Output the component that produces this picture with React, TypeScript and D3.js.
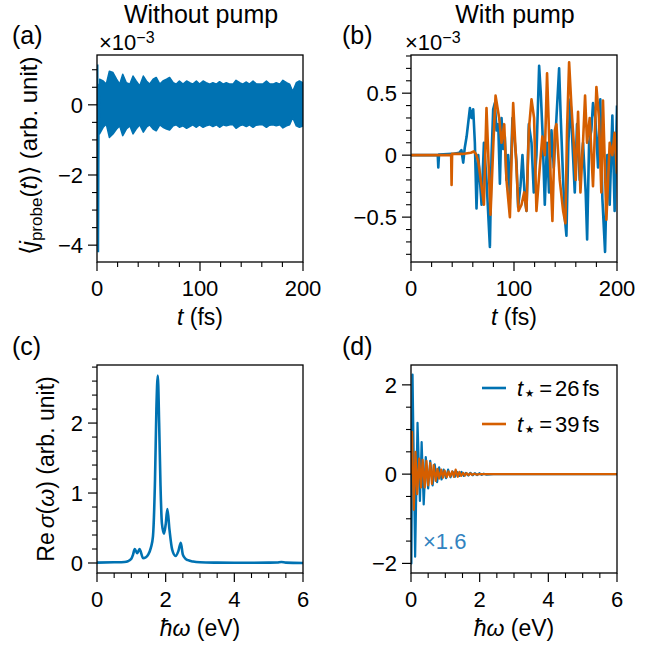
import React from 'react';
import * as d3 from 'd3';

const BLUE = '#0072B2';
const ORANGE = '#D55E00';
const SCALE_BLUE = '#3283c0';
const FONT = '"Liberation Sans", Arial, Helvetica, sans-serif';

// ---------- Panel (a): without pump ----------
const aSpikeT = [0, 0.5, 1.2, 1.8, 2.5];
const aSpikeV = [0, 1.15, -4.2, 0.6, -0.8];
const aBandT = [2.5, 6, 9, 12, 15.5, 19, 22, 25, 28.5, 32, 35, 38, 41.5, 45, 48, 51, 54.5, 57.5, 61, 64, 67.5, 70.5, 74, 77, 80, 83.5, 87, 90, 93, 96.5, 99.5, 103, 106, 109.5, 112.5, 116, 119, 122.5, 125.5, 129, 132, 135, 138.5, 141.5, 145, 148, 151.5, 154.5, 158, 161, 164.5, 167.5, 171, 174, 177.5, 180.5, 184, 187, 190, 193.5, 196.5, 200];
const aBandUpper = [0.73, 0.68, 0.59, 0.96, 0.92, 0.73, 0.59, 0.87, 0.63, 0.59, 0.82, 0.68, 0.54, 0.82, 0.68, 0.59, 0.73, 0.78, 0.59, 0.68, 0.73, 0.78, 0.63, 0.59, 0.68, 0.59, 0.68, 0.63, 0.59, 0.68, 0.59, 0.68, 0.63, 0.59, 0.63, 0.59, 0.66, 0.59, 0.63, 0.59, 0.59, 0.70, 0.63, 0.59, 0.65, 0.59, 0.68, 0.60, 0.59, 0.59, 0.68, 0.60, 0.59, 0.63, 0.59, 0.70, 0.63, 0.59, 0.38, 0.63, 0.68, 0.63];
const aBandLower = [-0.83, -0.64, -0.55, -0.93, -0.83, -0.69, -0.6, -0.88, -0.69, -0.6, -0.83, -0.69, -0.57, -0.78, -0.64, -0.57, -0.69, -0.74, -0.57, -0.64, -0.69, -0.72, -0.6, -0.57, -0.64, -0.6, -0.67, -0.62, -0.57, -0.64, -0.57, -0.64, -0.6, -0.57, -0.62, -0.57, -0.64, -0.57, -0.6, -0.57, -0.57, -0.67, -0.6, -0.57, -0.62, -0.57, -0.64, -0.58, -0.57, -0.57, -0.64, -0.58, -0.57, -0.6, -0.57, -0.66, -0.6, -0.57, -0.36, -0.6, -0.64, -0.6];

// ---------- Panel (b): with pump ----------
const bBlueT = [0, 26, 26.5, 27.2, 40, 47, 49, 50.7, 52.2, 54, 57.2, 58.8, 60.4, 62, 63.6, 65.3, 68.5, 70.8, 73.3, 76.6, 78.2, 79.8, 81.4, 83, 84.7, 86.3, 87.9, 89.5, 91.1, 92.7, 94.3, 96, 98.5, 100.8, 102.4, 104, 106.3, 108.2, 110.5, 112.1, 114.4, 117, 119.2, 121.8, 124.4, 126, 127.6, 129.9, 132, 134, 136.4, 138.6, 141.2, 143.8, 145.4, 147.7, 149.3, 150.9, 152.8, 154.8, 156.7, 159, 161.2, 163.8, 167, 169.6, 171, 172.9, 175.1, 176.7, 179, 181.6, 183.8, 185.8, 188.4, 190.6, 192.9, 195.5, 197.7, 200];
const bBlueV = [0, 0, -0.10, 0.005, 0.01, 0.02, 0.04, -0.06, 0.06, 0.15, 0.38, 0.30, 0.37, 0.10, -0.43, 0.0, -0.40, 0.10, -0.20, -0.74, 0.0, 0.37, 0.42, 0.20, 0.25, -0.23, 0.30, 0.05, 0.15, -0.20, 0.0, -0.35, 0.30, 0.10, -0.05, -0.42, -0.25, 0.0, -0.35, -0.45, 0.25, 0.10, -0.30, 0.0, 0.72, 0.50, 0.20, -0.40, 0.10, -0.30, 0.20, -0.10, 0.30, 0.70, 0.30, -0.20, -0.50, -0.65, 0.10, 0.45, 0.10, -0.30, 0.25, -0.20, 0.10, -0.30, -0.68, 0.10, 0.20, 0.42, 0.30, -0.10, 0.45, -0.35, -0.78, 0.0, -0.40, 0.32, -0.45, 0.40];
const bOrangeT = [0, 39, 39.4, 39.9, 50, 58, 61, 63, 65.3, 68.5, 70.8, 73.3, 77.2, 80, 82.1, 85.6, 87.9, 90.5, 92.7, 96, 99.2, 101.8, 104.4, 107.3, 109.9, 112.1, 114.4, 117, 119.5, 121.8, 125, 127.5, 129.9, 132.1, 134.7, 137.3, 139.6, 141.2, 144.4, 147.7, 149.9, 151.5, 153.5, 155.7, 158, 159.9, 162.2, 164.5, 167, 169, 170.9, 173.5, 176.7, 180, 182.5, 184.8, 186.4, 189.7, 192.9, 195.5, 197.7, 200];
const bOrangeV = [0, 0, -0.24, 0.01, 0.01, 0.02, 0.03, 0.01, -0.05, -0.25, -0.40, 0.38, -0.48, 0.1, 0.48, 0.30, 0.10, 0.25, -0.20, -0.50, 0.42, 0.0, -0.45, -0.40, -0.30, -0.45, 0.20, 0.45, 0.30, -0.45, -0.10, 0.15, 0.0, 0.66, 0.0, -0.53, 0.20, 0.25, -0.20, -0.45, -0.55, 0.20, 0.75, 0.40, 0.10, -0.20, 0.35, -0.30, 0.10, 0.48, 0.10, 0.30, -0.25, 0.55, 0.30, -0.30, 0.44, -0.52, 0.10, 0.0, 0.18, -0.15];

// ---------- Panel (c): Re sigma ----------
const cOmega = [0, 0.5, 0.8, 0.9, 1.0, 1.05, 1.10, 1.17, 1.24, 1.34, 1.42, 1.49, 1.57, 1.63, 1.69, 1.73, 1.77, 1.81, 1.85, 1.89, 1.95, 2.0, 2.05, 2.11, 2.19, 2.29, 2.37, 2.44, 2.5, 2.58, 2.65, 2.8, 3.0, 3.5, 4.0, 4.5, 5.0, 5.25, 5.37, 5.5, 6.0];
const cSigma = [0.005, 0.01, 0.015, 0.025, 0.06, 0.12, 0.20, 0.14, 0.20, 0.07, 0.08, 0.12, 0.22, 0.38, 1.2, 2.2, 2.68, 2.0, 1.1, 0.57, 0.42, 0.55, 0.77, 0.48, 0.19, 0.10, 0.17, 0.29, 0.12, 0.06, 0.04, 0.02, 0.01, 0.005, 0.003, 0.003, 0.005, 0.008, 0.015, 0.005, 0.0];

// ---------- Panel (d): differential spectra ----------
const dBlueW = [0, 0.012, 0.045, 0.12, 0.19, 0.26, 0.31, 0.37, 0.43, 0.5, 0.56, 0.63, 0.69, 0.76, 0.82, 0.89, 0.95, 1.02, 1.08, 1.15, 1.21, 1.28, 1.34, 1.41, 1.47, 1.54, 1.6, 1.67, 1.73, 1.8, 1.86, 1.93, 1.99, 2.06, 2.12, 2.2, 2.4, 6.0];
const dBlueV = [0.3, -2.0, 2.23, -1.85, 1.15, -0.6, 0.72, -0.68, 0.38, -0.32, 0.3, -0.25, 0.22, -0.18, 0.15, -0.12, 0.1, -0.09, 0.1, -0.07, 0.06, -0.06, 0.05, -0.04, 0.05, -0.04, 0.03, -0.03, 0.03, -0.025, 0.02, -0.02, 0.02, -0.015, 0.01, -0.01, 0, 0];
const dOrangeW = [0, 0.03, 0.08, 0.13, 0.18, 0.24, 0.29, 0.34, 0.4, 0.45, 0.5, 0.56, 0.61, 0.66, 0.72, 0.77, 0.82, 0.88, 0.93, 0.98, 1.04, 1.09, 1.14, 1.2, 1.25, 1.3, 1.36, 1.41, 1.46, 1.52, 1.57, 1.62, 1.68, 1.73, 1.78, 1.84, 1.9, 2.0, 6.0];
const dOrangeV = [0, 0.95, -0.8, 0.5, -0.45, 0.35, -0.3, 0.32, -0.3, 0.3, -0.25, 0.25, -0.22, 0.2, -0.15, 0.12, -0.1, 0.1, -0.08, 0.08, -0.07, 0.06, -0.05, 0.06, -0.06, 0.1, -0.06, 0.05, -0.04, 0.03, -0.03, 0.02, -0.02, 0.015, -0.015, 0.01, -0.01, 0, 0];

// ---------- Ticks ----------
const tXMajor = [0, 100, 200];
const tXMinor = [20, 40, 60, 80, 120, 140, 160, 180];
const tXLabels = ['0', '100', '200'];
const aYMajor = [-4, -2, 0];
const aYMinor = [-3.5, -3, -2.5, -1.5, -1, -0.5, 0.5, 1];
const aYLabels = ['\u22124', '\u22122', '0'];
const bYMajor = [-0.5, 0, 0.5];
const bYMinor = [-0.8, -0.7, -0.6, -0.4, -0.3, -0.2, -0.1, 0.1, 0.2, 0.3, 0.4, 0.6, 0.7, 0.8];
const bYLabels = ['\u22120.5', '0', '0.5'];
const wXMajor = [0, 2, 4, 6];
const wXMinor = [0.5, 1, 1.5, 2.5, 3, 3.5, 4.5, 5, 5.5];
const wXLabels = ['0', '2', '4', '6'];
const cYMajor = [0, 1, 2];
const cYMinor = [0.2, 0.4, 0.6, 0.8, 1.2, 1.4, 1.6, 1.8, 2.2, 2.4, 2.6, 2.8];
const cYLabels = ['0', '1', '2'];
const dYMajor = [-2, 0, 2];
const dYMinor = [-1.5, -1, -0.5, 0.5, 1, 1.5];
const dYLabels = ['\u22122', '0', '2'];

const TICK_FS = 22;
const LABEL_FS = 23;
const TITLE_FS = 25;

type Scale = d3.ScaleLinear<number, number>;

function Frame(props: {
  x: Scale; y: Scale;
  xMajor: number[]; xMinor: number[]; xLabels: string[];
  yMajor: number[]; yMinor: number[]; yLabels: string[];
}) {
  const { x, y } = props;
  const [x0, x1] = x.range();
  const [y0, y1] = y.range();
  return (
    <g>
      <rect x={x0} y={y1} width={x1 - x0} height={y0 - y1} fill="none" stroke="#000" strokeWidth={1.3} />
      {props.xMajor.map((v, i) => (
        <g key={'xM' + i}>
          <line x1={x(v)} x2={x(v)} y1={y0} y2={y0 + 9} stroke="#000" strokeWidth={1.2} />
          <text x={x(v)} y={y0 + 34} textAnchor="middle" fontSize={TICK_FS}>{props.xLabels[i]}</text>
        </g>
      ))}
      {props.xMinor.map((v, i) => (
        <line key={'xm' + i} x1={x(v)} x2={x(v)} y1={y0} y2={y0 + 5} stroke="#000" strokeWidth={1.1} />
      ))}
      {props.yMajor.map((v, i) => (
        <g key={'yM' + i}>
          <line x1={x0} x2={x0 - 9} y1={y(v)} y2={y(v)} stroke="#000" strokeWidth={1.2} />
          <text x={x0 - 14} y={y(v)} dy="0.36em" textAnchor="end" fontSize={TICK_FS}>{props.yLabels[i]}</text>
        </g>
      ))}
      {props.yMinor.map((v, i) => (
        <line key={'ym' + i} x1={x0} x2={x0 - 5} y1={y(v)} y2={y(v)} stroke="#000" strokeWidth={1.1} />
      ))}
    </g>
  );
}

function clipRect(id: string, x: Scale, y: Scale) {
  const [x0, x1] = x.range();
  const [y0, y1] = y.range();
  return (
    <clipPath id={id}>
      <rect x={x0} y={y1} width={x1 - x0} height={y0 - y1} />
    </clipPath>
  );
}

export default function App() {
  const ax = d3.scaleLinear().domain([0, 200]).range([97, 303]);
  const ay = d3.scaleLinear().domain([-4.48, 1.42]).range([262, 55]);
  const bx = d3.scaleLinear().domain([0, 200]).range([411, 617]);
  const by = d3.scaleLinear().domain([-0.862, 0.808]).range([262, 55]);
  const cx = d3.scaleLinear().domain([0, 6]).range([97, 303]);
  const cy = d3.scaleLinear().domain([-0.143, 2.83]).range([573, 365]);
  const dx = d3.scaleLinear().domain([0, 6]).range([411, 617]);
  const dy = d3.scaleLinear().domain([-2.215, 2.445]).range([573, 365]);

  const lineOf = (xs: number[], ys: number[], sx: Scale, sy: Scale, curve = d3.curveLinear) =>
    d3.line<number>().x((_, i) => sx(xs[i])).y((v) => sy(v)).curve(curve)(ys) || '';

  const bandPath = d3.area<number>()
    .x((_, i) => ax(aBandT[i]))
    .y0((_, i) => ay(aBandLower[i]))
    .y1((v) => ay(v))(aBandUpper) || '';

  return (
    <svg width={667} height={654} style={{ position: 'absolute', left: 0, top: 0, background: '#fff' }} fontFamily={FONT}>
      <rect x={0} y={0} width={667} height={654} fill="#fff" />
      <defs>
        {clipRect('clipA', ax, ay)}
        {clipRect('clipB', bx, by)}
        {clipRect('clipC', cx, cy)}
        {clipRect('clipD', dx, dy)}
      </defs>

      {/* Titles and panel labels */}
      <text x={201} y={23} textAnchor="middle" fontSize={25}>Without pump</text>
      <text x={515} y={23} textAnchor="middle" fontSize={25}>With pump</text>
      <text x={12} y={44} fontSize={TITLE_FS}>(a)</text>
      <text x={342} y={44} fontSize={TITLE_FS}>(b)</text>
      <text x={12} y={355} fontSize={TITLE_FS}>(c)</text>
      <text x={342} y={355} fontSize={TITLE_FS}>(d)</text>

      {/* exponent labels */}
      <text x={99} y={50} fontSize={TICK_FS}>×10<tspan fontSize={16} dy={-7}>−3</tspan></text>
      <text x={405} y={50} fontSize={TICK_FS}>×10<tspan fontSize={16} dy={-7}>−3</tspan></text>

      {/* Panel (a) */}
      <g clipPath="url(#clipA)">
        <path d={bandPath} fill={BLUE} stroke={BLUE} strokeWidth={1.5} strokeLinejoin="round" />
        <path d={lineOf(aSpikeT, aSpikeV, ax, ay)} fill="none" stroke={BLUE} strokeWidth={2} />
      </g>
      <Frame x={ax} y={ay} xMajor={tXMajor} xMinor={tXMinor} xLabels={tXLabels} yMajor={aYMajor} yMinor={aYMinor} yLabels={aYLabels} />
      <text transform="translate(37,156) rotate(-90)" textAnchor="middle" fontSize={24}>
        ⟨<tspan fontStyle="italic">j</tspan><tspan fontSize={17} dy={5}>probe</tspan><tspan dy={-5}>(</tspan><tspan fontStyle="italic">t</tspan>)⟩ (arb. unit)
      </text>
      <text x={200} y={325} textAnchor="middle" fontSize={LABEL_FS}><tspan fontStyle="italic">t</tspan> (fs)</text>

      {/* Panel (b) */}
      <g clipPath="url(#clipB)">
        <path d={lineOf(bBlueT, bBlueV, bx, by)} fill="none" stroke={BLUE} strokeWidth={2.6} strokeLinejoin="round" />
        <path d={lineOf(bOrangeT, bOrangeV, bx, by)} fill="none" stroke={ORANGE} strokeWidth={2.6} strokeLinejoin="round" />
      </g>
      <Frame x={bx} y={by} xMajor={tXMajor} xMinor={tXMinor} xLabels={tXLabels} yMajor={bYMajor} yMinor={bYMinor} yLabels={bYLabels} />
      <text x={514} y={325} textAnchor="middle" fontSize={LABEL_FS}><tspan fontStyle="italic">t</tspan> (fs)</text>

      {/* Panel (c) */}
      <g clipPath="url(#clipC)">
        <path d={lineOf(cOmega, cSigma, cx, cy, d3.curveMonotoneX)} fill="none" stroke={BLUE} strokeWidth={2.6} strokeLinejoin="round" />
      </g>
      <Frame x={cx} y={cy} xMajor={wXMajor} xMinor={wXMinor} xLabels={wXLabels} yMajor={cYMajor} yMinor={cYMinor} yLabels={cYLabels} />
      <text transform="translate(54,469) rotate(-90)" textAnchor="middle" fontSize={LABEL_FS}>
        Re<tspan dx={4} fontStyle="italic">σ</tspan>(<tspan fontStyle="italic">ω</tspan>) (arb. unit)
      </text>
      <text x={200} y={636} textAnchor="middle" fontSize={LABEL_FS}><tspan fontStyle="italic">ħω</tspan> (eV)</text>

      {/* Panel (d) */}
      <g clipPath="url(#clipD)">
        <path d={lineOf(dBlueW, dBlueV, dx, dy)} fill="none" stroke={BLUE} strokeWidth={2.2} strokeLinejoin="round" />
        <path d={lineOf(dOrangeW, dOrangeV, dx, dy)} fill="none" stroke={ORANGE} strokeWidth={2.2} strokeLinejoin="round" />
      </g>
      <Frame x={dx} y={dy} xMajor={wXMajor} xMinor={wXMinor} xLabels={wXLabels} yMajor={dYMajor} yMinor={dYMinor} yLabels={dYLabels} />
      <text x={514} y={636} textAnchor="middle" fontSize={LABEL_FS}><tspan fontStyle="italic">ħω</tspan> (eV)</text>
      <text x={423} y={549} fontSize={22} fill={SCALE_BLUE}>×1.6</text>

      {/* Legend */}
      <line x1={482} x2={506} y1={388} y2={388} stroke={BLUE} strokeWidth={2.6} />
      <text x={517} y={396} fontSize={TICK_FS}>
        <tspan fontStyle="italic">t</tspan><tspan fontSize={21} dy={4}>⋆</tspan><tspan dy={-4} dx={3}>=</tspan><tspan dx={3}>26</tspan><tspan dx={3}>fs</tspan>
      </text>
      <line x1={482} x2={506} y1={424} y2={424} stroke={ORANGE} strokeWidth={2.6} />
      <text x={517} y={432} fontSize={TICK_FS}>
        <tspan fontStyle="italic">t</tspan><tspan fontSize={21} dy={4}>⋆</tspan><tspan dy={-4} dx={3}>=</tspan><tspan dx={3}>39</tspan><tspan dx={3}>fs</tspan>
      </text>
    </svg>
  );
}
